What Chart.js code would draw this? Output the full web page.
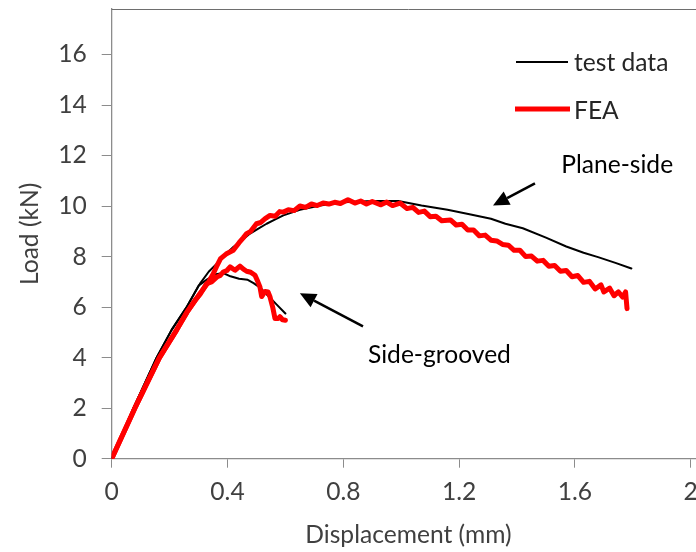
<!DOCTYPE html>
<html>
<head>
<meta charset="utf-8">
<script src="https://cdn.jsdelivr.net/npm/chart.js@4.4.1/dist/chart.umd.min.js"></script>
<style>
  html, body { margin: 0; padding: 0; background: #fff; overflow: hidden; }
  #wrap { width: 696px; height: 552px; overflow: hidden; }
  canvas { display: block; }
</style>
</head>
<body>
<div id="wrap"><canvas id="loadChart" width="720" height="552"></canvas></div>
<script>
// tick labels
const xTicks = [0, 0.4, 0.8, 1.2, 1.6, 2];
const yTicks = [0, 2, 4, 6, 8, 10, 12, 14, 16];

// plane-side, test data
const planeTestX = [0, 0.075, 0.155, 0.207, 0.259, 0.305, 0.335, 0.363, 0.39, 0.42, 0.45, 0.478, 0.505, 0.535, 0.565, 0.593, 0.65, 0.72, 0.8, 0.9, 0.99, 1.07, 1.16, 1.24, 1.31, 1.36, 1.42, 1.5, 1.57, 1.63, 1.68, 1.74, 1.795];
const planeTestY = [0, 2, 4, 5.1, 6.0, 6.93, 7.4, 7.72, 8.05, 8.38, 8.65, 8.91, 9.1, 9.3, 9.47, 9.63, 9.85, 10.02, 10.15, 10.2, 10.2, 10.02, 9.85, 9.67, 9.5, 9.3, 9.12, 8.75, 8.4, 8.15, 7.98, 7.75, 7.53];

// side-grooved, test data
const grooveTestX = [0, 0.075, 0.155, 0.207, 0.259, 0.3, 0.33, 0.36, 0.385, 0.41, 0.44, 0.47, 0.49, 0.515, 0.54, 0.57, 0.6];
const grooveTestY = [0, 2, 4, 5.1, 6.0, 6.85, 7.1, 7.3, 7.35, 7.22, 7.12, 7.08, 6.95, 6.75, 6.45, 6.1, 5.75];

// plane-side, FEA
const planeFeaX = [0, 0.08, 0.165, 0.224, 0.26, 0.305, 0.335, 0.35, 0.362, 0.376, 0.395, 0.42, 0.44, 0.455, 0.466, 0.48, 0.5, 0.515, 0.53, 0.547, 0.565, 0.58, 0.593, 0.61, 0.63, 0.65, 0.67, 0.69, 0.71, 0.73, 0.75, 0.77, 0.79, 0.816, 0.84, 0.86, 0.88, 0.9, 0.93, 0.95, 0.97, 0.996, 1.02, 1.04, 1.06, 1.08, 1.1, 1.12, 1.14, 1.17, 1.19, 1.21, 1.23, 1.25, 1.27, 1.29, 1.31, 1.33, 1.35, 1.37, 1.39, 1.41, 1.43, 1.45, 1.47, 1.49, 1.51, 1.53, 1.55, 1.57, 1.59, 1.61, 1.63, 1.65, 1.67, 1.69, 1.7, 1.72, 1.735, 1.75, 1.765, 1.775, 1.78];
const planeFeaY = [0, 2, 4, 5.09, 5.8, 6.54, 7.0, 7.3, 7.6, 7.92, 8.1, 8.25, 8.55, 8.75, 8.91, 9.0, 9.3, 9.35, 9.5, 9.63, 9.6, 9.78, 9.76, 9.85, 9.82, 10.0, 9.95, 10.08, 10.02, 10.12, 10.08, 10.15, 10.1, 10.25, 10.12, 10.2, 10.08, 10.18, 10.05, 10.16, 10.02, 10.12, 9.9, 9.95, 9.75, 9.8, 9.58, 9.6, 9.42, 9.45, 9.25, 9.28, 9.05, 9.05, 8.82, 8.85, 8.65, 8.62, 8.48, 8.45, 8.25, 8.25, 8.0, 8.02, 7.82, 7.85, 7.62, 7.65, 7.42, 7.45, 7.2, 7.25, 6.98, 7.02, 6.72, 6.88, 6.6, 6.75, 6.45, 6.6, 6.4, 6.6, 5.94];

// side-grooved, FEA
const grooveFeaX = [0, 0.08, 0.165, 0.224, 0.26, 0.29, 0.305, 0.328, 0.345, 0.363, 0.375, 0.385, 0.398, 0.409, 0.426, 0.443, 0.455, 0.466, 0.48, 0.495, 0.505, 0.512, 0.518, 0.53, 0.54, 0.547, 0.556, 0.564, 0.575, 0.581, 0.59, 0.6];
const grooveFeaY = [0, 2, 4, 5.09, 5.8, 6.3, 6.5, 6.93, 7.0, 7.19, 7.25, 7.39, 7.45, 7.59, 7.46, 7.62, 7.5, 7.42, 7.38, 7.26, 7.0, 6.8, 6.42, 6.62, 6.6, 6.4, 6.0, 5.55, 5.55, 5.62, 5.5, 5.48];

const FONT = 'Lato';
const FSIZE = 24.6;
const TEXT_GREY = '#404040';
const AXIS_GREY = '#8c8c8c';

function toPoints(xs, ys) {
    return xs.map((x, i) => ({ x: x, y: ys[i] }));
}

function seriesStyle(color, width) {
    return {
        borderColor: color,
        backgroundColor: color,
        borderWidth: width,
        borderJoinStyle: 'round',
        borderCapStyle: 'round',
        pointRadius: 0,
        showLine: true,
        fill: false,
        tension: 0
    };
}

// FEA first so it is painted over the test curves
const datasets = [
    Object.assign({ label: 'FEA', data: toPoints(planeFeaX, planeFeaY) }, seriesStyle('#ff0000', 5)),
    Object.assign({ label: 'FEA', data: toPoints(grooveFeaX, grooveFeaY) }, seriesStyle('#ff0000', 5)),
    Object.assign({ label: 'test data', data: toPoints(planeTestX, planeTestY) }, seriesStyle('#000000', 2)),
    Object.assign({ label: 'test data', data: toPoints(grooveTestX, grooveTestY) }, seriesStyle('#000000', 2))
];

function drawArrow(ctx, x1, y1, x2, y2) {
    const ang = Math.atan2(y2 - y1, x2 - x1);
    const len = 16, half = 7.5;
    const bx = x2 - Math.cos(ang) * len, by = y2 - Math.sin(ang) * len;
    ctx.strokeStyle = '#000';
    ctx.fillStyle = '#000';
    ctx.lineWidth = 2.5;
    ctx.beginPath();
    ctx.moveTo(x1, y1);
    ctx.lineTo(bx, by);
    ctx.stroke();
    ctx.beginPath();
    ctx.moveTo(x2, y2);
    ctx.lineTo(bx + Math.sin(ang) * half, by - Math.cos(ang) * half);
    ctx.lineTo(bx - Math.sin(ang) * half, by + Math.cos(ang) * half);
    ctx.closePath();
    ctx.fill();
}

// plot area frame, arrows + labels, legend
const extras = {
    id: 'extras',
    beforeDatasetsDraw(chart) {
        const { ctx, chartArea: a } = chart;
        ctx.save();
        ctx.strokeStyle = '#6e6e6e';
        ctx.lineWidth = 1;
        ctx.beginPath();
        ctx.moveTo(a.left, a.top + 0.5);
        ctx.lineTo(a.right, a.top + 0.5);
        ctx.stroke();
        ctx.restore();
    },
    afterDatasetsDraw(chart) {
        const { ctx, scales: { x, y } } = chart;
        ctx.save();
        drawArrow(ctx, x.getPixelForValue(1.462), y.getPixelForValue(10.9), x.getPixelForValue(1.317), y.getPixelForValue(10.02));
        drawArrow(ctx, x.getPixelForValue(0.868), y.getPixelForValue(5.24), x.getPixelForValue(0.65), y.getPixelForValue(6.55));

        ctx.font = FSIZE + 'px ' + FONT;
        ctx.fillStyle = '#000';
        ctx.textAlign = 'center';
        ctx.textBaseline = 'middle';
        ctx.fillText('Plane-side', x.getPixelForValue(1.746), y.getPixelForValue(11.61));
        ctx.fillText('Side-grooved', x.getPixelForValue(1.132), y.getPixelForValue(4.1));

        // legend
        const items = [
            { ds: datasets[2], x0: 516, x1: 568, ly: 62, ty: 63 },
            { ds: datasets[0], x0: 515, x1: 570, ly: 109, ty: 111 }
        ];
        ctx.textAlign = 'left';
        ctx.fillStyle = '#262626';
        items.forEach(it => {
            ctx.strokeStyle = it.ds.borderColor;
            ctx.lineWidth = it.ds.borderWidth;
            ctx.lineCap = 'butt';
            ctx.beginPath();
            ctx.moveTo(it.x0, it.ly);
            ctx.lineTo(it.x1, it.ly);
            ctx.stroke();
            ctx.fillText(it.ds.label, 574, it.ty);
        });
        ctx.restore();
    }
};

const ctx = document.getElementById('loadChart').getContext('2d');
const loadChart = new Chart(ctx, {
    type: 'scatter',
    data: { datasets: datasets },
    plugins: [extras],
    options: {
        responsive: false,
        animation: false,
        layout: { padding: { left: 0, top: 9, right: 14.8, bottom: 0 } },
        plugins: { legend: { display: false }, tooltip: { enabled: false } },
        scales: {
            x: {
                type: 'linear',
                min: 0,
                max: 2.05,
                afterBuildTicks: s => { s.ticks = xTicks.map(v => ({ value: v })); },
                afterFit: s => { s.height = 93.3; s.paddingLeft = 0; s.paddingRight = 0; },
                ticks: {
                    color: TEXT_GREY,
                    font: { family: FONT, size: FSIZE },
                    padding: 10,
                    maxRotation: 0,
                    autoSkip: false,
                    callback: v => String(+v.toFixed(1))
                },
                grid: { drawOnChartArea: false, drawTicks: true, tickLength: 9, color: AXIS_GREY },
                border: { color: AXIS_GREY, width: 1.3 },
                title: {
                    display: true,
                    text: 'Displacement (mm)',
                    color: TEXT_GREY,
                    font: { family: FONT, size: FSIZE },
                    padding: { top: 0, bottom: 2 }
                }
            },
            y: {
                type: 'linear',
                min: 0,
                max: 17.8,
                afterBuildTicks: s => { s.ticks = yTicks.map(v => ({ value: v })); },
                afterFit: s => { s.width = 111.7; s.paddingTop = 0; s.paddingBottom = 0; },
                ticks: {
                    color: TEXT_GREY,
                    font: { family: FONT, size: FSIZE },
                    padding: 15,
                    autoSkip: false,
                    callback: v => String(v)
                },
                grid: { drawOnChartArea: false, drawTicks: true, tickLength: 10, color: AXIS_GREY },
                border: { color: AXIS_GREY, width: 1.3 },
                title: {
                    display: true,
                    text: 'Load (kN)',
                    color: TEXT_GREY,
                    font: { family: FONT, size: FSIZE },
                    padding: { top: 15, bottom: 0 }
                }
            }
        }
    }
});
</script>
</body>
</html>
